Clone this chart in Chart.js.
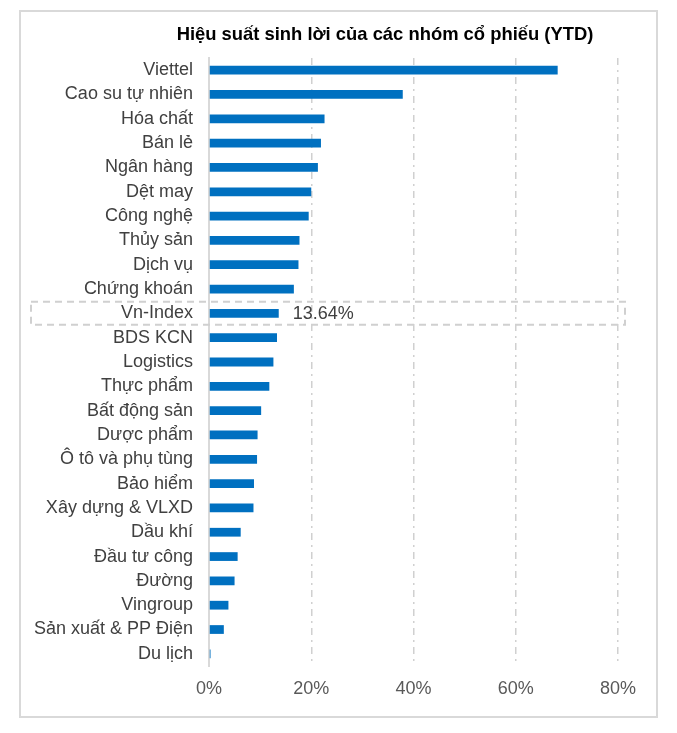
<!DOCTYPE html>
<html>
<head>
<meta charset="utf-8">
<script src="https://cdn.jsdelivr.net/npm/chart.js@4.4.1/dist/chart.umd.min.js"></script>
<style>
  html, body { margin: 0; padding: 0; background: #fff; }
  #wrap { position: relative; width: 677px; height: 733px; }
  #frame {
    position: absolute; left: 19px; top: 10px; width: 635px; height: 704px;
    border: 2px solid #d9d9d9;
  }
  #title {
    position: absolute; left: 135px; top: 23px; width: 500px; text-align: center;
    white-space: nowrap; font: bold 18.4px 'Liberation Sans', Arial, sans-serif;
    line-height: 22px; color: #000;
  }
  canvas { position: absolute; left: 0; top: 0; }
</style>
</head>
<body>
<div id="wrap">
  <div id="frame"></div>
  <canvas id="chart" width="677" height="733"></canvas>
  <div id="title">Hiệu suất sinh lời của các nhóm cổ phiếu (YTD)</div>
</div>
<script>
// Nhóm cổ phiếu và hiệu suất YTD (%)
const CATEGORIES = [
  'Viettel', 'Cao su tự nhiên', 'Hóa chất', 'Bán lẻ', 'Ngân hàng',
  'Dệt may', 'Công nghệ', 'Thủy sản', 'Dịch vụ', 'Chứng khoán',
  'Vn-Index', 'BDS KCN', 'Logistics', 'Thực phẩm', 'Bất động sản',
  'Dược phẩm', 'Ô tô và phụ tùng', 'Bảo hiểm', 'Xây dựng & VLXD', 'Dầu khí',
  'Đầu tư công', 'Đường', 'Vingroup', 'Sản xuất & PP Điện', 'Du lịch'
];
const VALUES = [
  68.2, 37.9, 22.6, 21.9, 21.3,
  20.0, 19.5, 17.7, 17.5, 16.6,
  13.64, 13.3, 12.6, 11.8, 10.2,
  9.5, 9.4, 8.8, 8.7, 6.2,
  5.6, 5.0, 3.8, 2.9, 0.3
];
const X_TICKS = [0, 20, 40, 60, 80];
const HIGHLIGHT = 'Vn-Index';

const FONT = "'Liberation Sans', Arial, sans-serif";
const BLUE = '#0070C0';
const GRID = '#d0d0d0';

// khung nét đứt quanh Vn-Index + nhãn giá trị
const highlightPlugin = {
  id: 'highlight',
  afterDatasetsDraw(chart) {
    const { ctx, scales: { x, y } } = chart;
    const i = CATEGORIES.indexOf(HIGHLIGHT);
    if (i < 0) return;
    const yc = y.getPixelForValue(i);
    ctx.save();
    ctx.setLineDash([7, 5]);
    ctx.strokeStyle = '#d0d0d0';
    ctx.lineWidth = 2;
    ctx.strokeRect(31, yc - 11.5, 594, 23);
    ctx.setLineDash([]);
    ctx.fillStyle = '#404040';
    ctx.font = '18px ' + FONT;
    ctx.textBaseline = 'middle';
    ctx.textAlign = 'left';
    ctx.fillText(VALUES[i].toFixed(2) + '%', x.getPixelForValue(VALUES[i]) + 14, yc + 1);
    ctx.restore();
  }
};

new Chart(document.getElementById('chart'), {
  type: 'bar',
  data: {
    labels: CATEGORIES,
    datasets: [{
      data: VALUES,
      backgroundColor: BLUE,
      borderWidth: 0,
      categoryPercentage: 1,
      barPercentage: 0.36
    }]
  },
  options: {
    indexAxis: 'y',
    responsive: false,
    animation: false,
    layout: { padding: { left: 0, right: 59, top: 58, bottom: 0 } },
    plugins: { legend: { display: false }, tooltip: { enabled: false } },
    scales: {
      x: {
        min: X_TICKS[0],
        max: X_TICKS[X_TICKS.length - 1],
        afterBuildTicks: (s) => { s.ticks = X_TICKS.map((v) => ({ value: v })); },
        afterFit: (s) => { s.height = 67; },
        grid: {
          drawTicks: false,
          lineWidth: 1.5,
          color: (c) => (c.tick && c.tick.value === 0 ? 'rgba(0,0,0,0)' : GRID)
        },
        border: { display: false, dash: [7, 5, 2, 5] },
        ticks: {
          padding: 12,
          color: '#595959',
          font: { family: FONT, size: 18 },
          callback: (v) => v + '%'
        }
      },
      y: {
        afterFit: (s) => { s.width = 209; },
        grid: { display: false, drawTicks: false },
        border: { display: true, color: '#d9d9d9', width: 2 },
        ticks: {
          padding: 16,
          color: '#404040',
          font: { family: FONT, size: 18 },
          autoSkip: false
        }
      }
    }
  },
  plugins: [highlightPlugin]
});
</script>
</body>
</html>
